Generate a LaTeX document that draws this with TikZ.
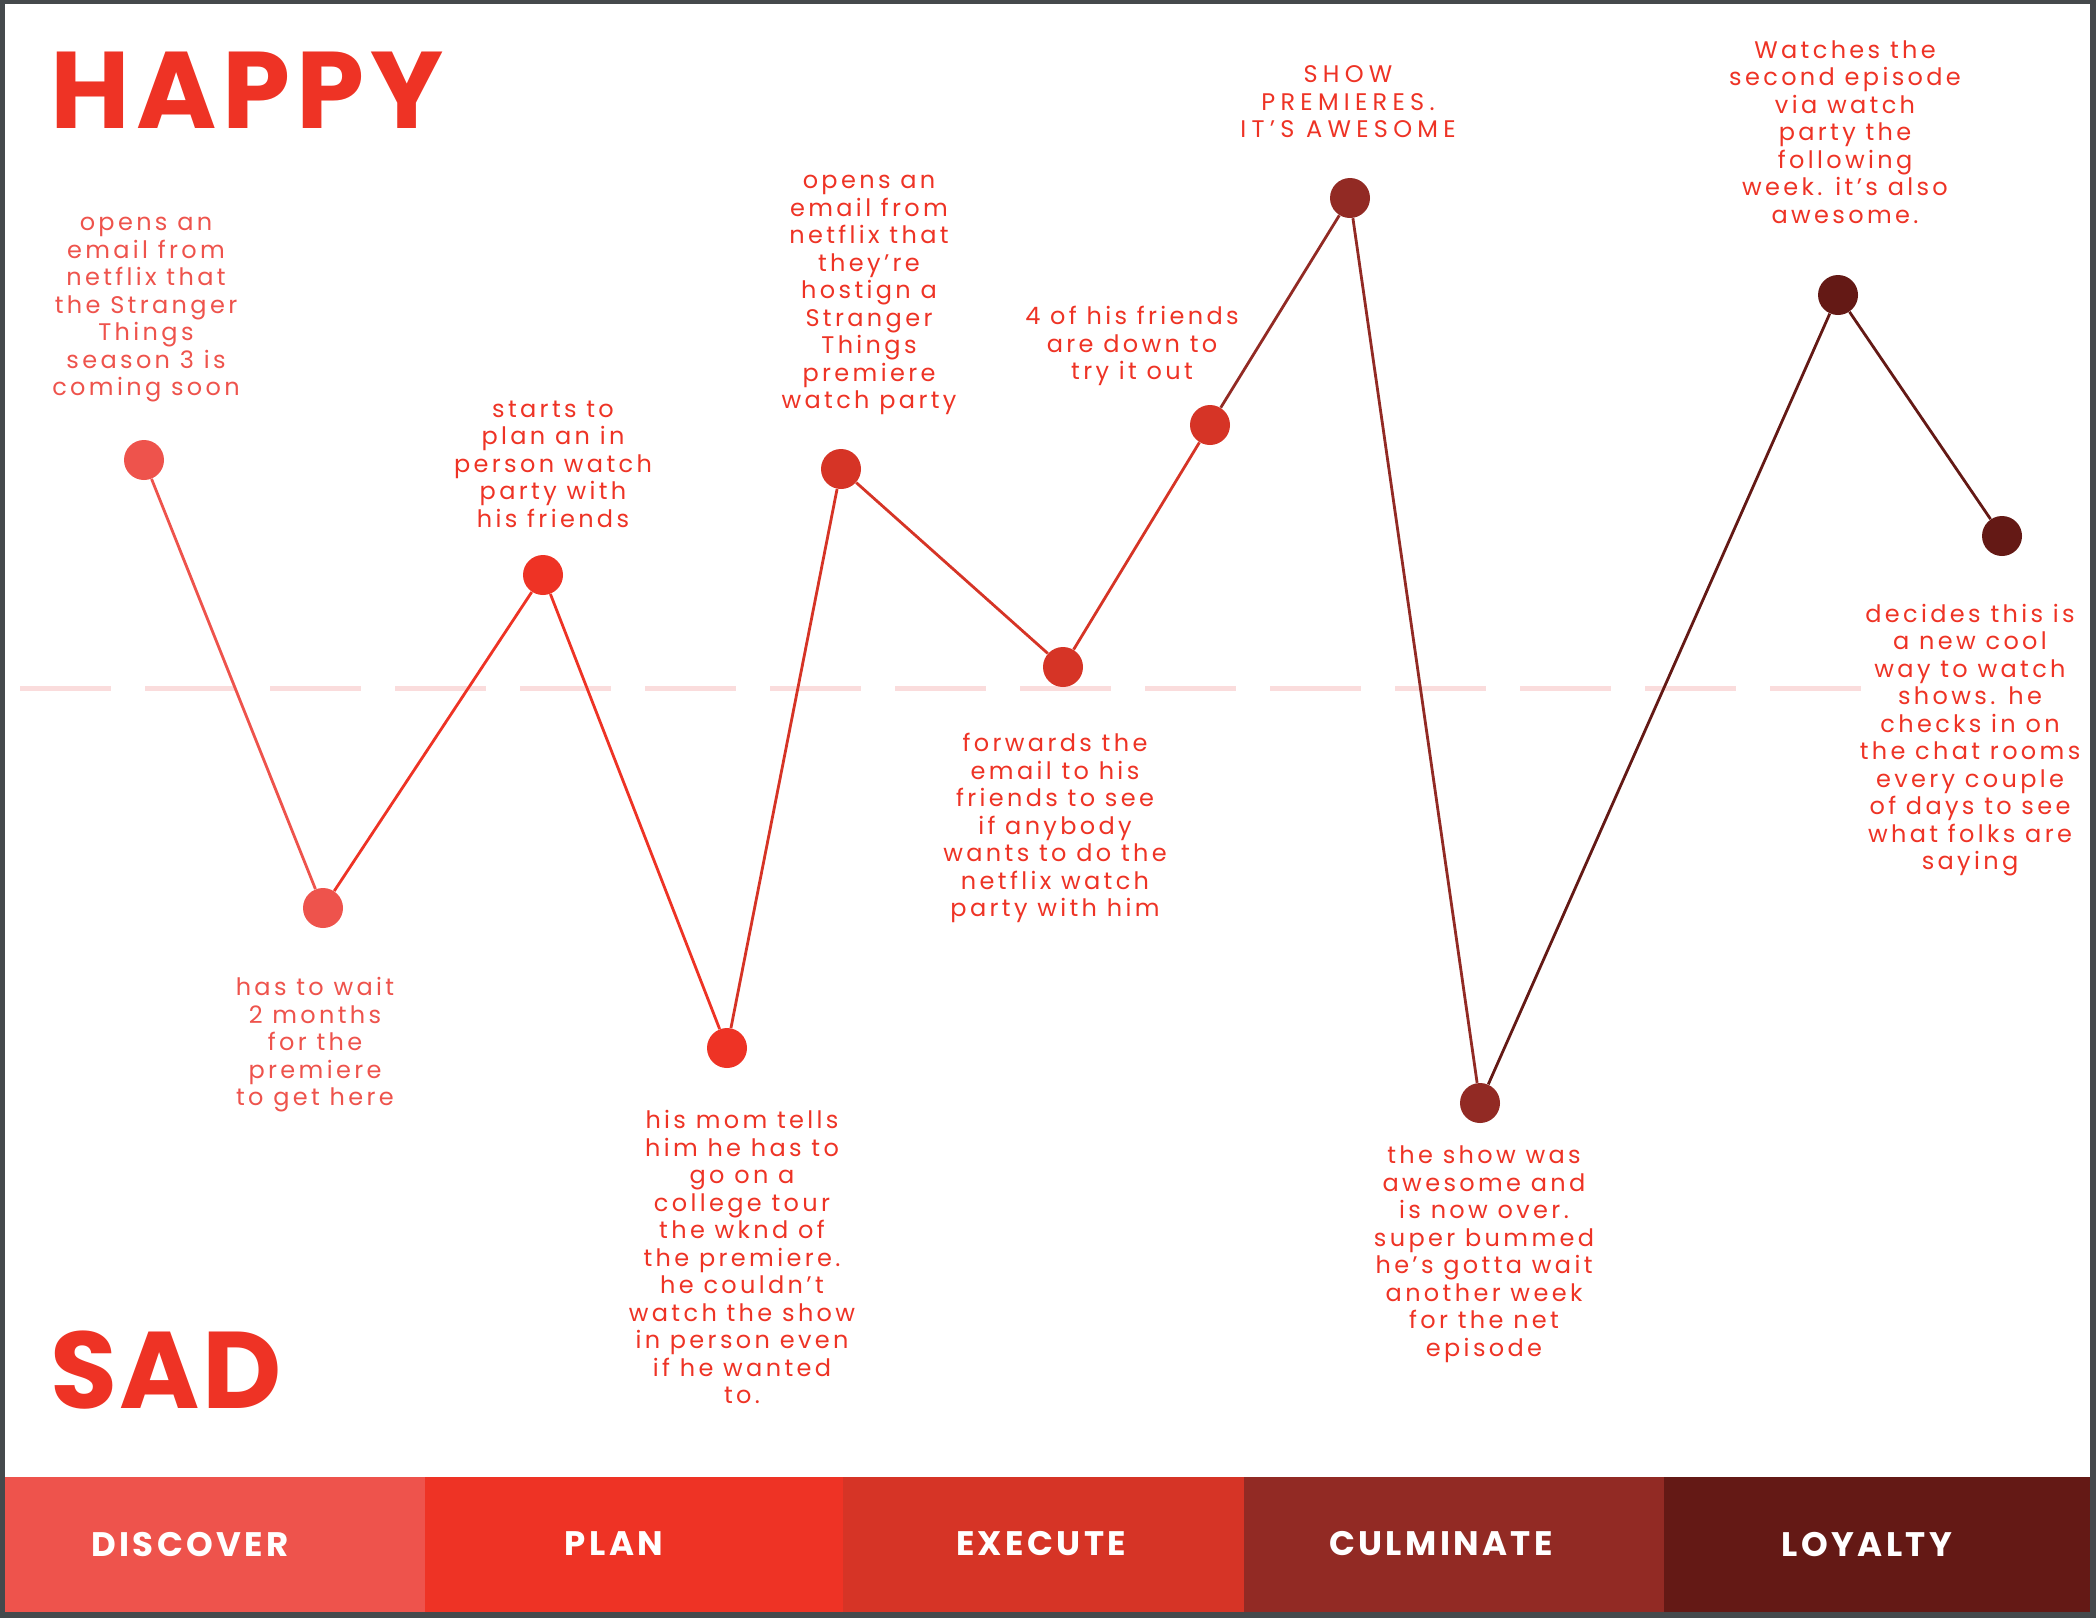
\documentclass[tikz,border=0pt]{standalone}
\usepackage{fontspec}
\setmainfont{Poppins}
\newfontfamily\bodyfont{Poppins}[LetterSpace=14]
\newfontfamily\capsfont{Poppins}[LetterSpace=22]
\newfontfamily\barfont{Poppins}[LetterSpace=10]
\newfontfamily\happyfont{Poppins}[LetterSpace=5.5]
\newfontfamily\sadfont{Poppins}[LetterSpace=2]
\definecolor{cFrame}{HTML}{45494C}
\definecolor{cDiscover}{HTML}{EE534C}
\definecolor{cPlan}{HTML}{EE3325}
\definecolor{cExecute}{HTML}{D63426}
\definecolor{cCulminate}{HTML}{922A24}
\definecolor{cLoyalty}{HTML}{641915}
\definecolor{cDash}{HTML}{FADCDC}
\tikzset{
  dot/.style={circle, inner sep=0pt, minimum size=20pt, draw=none},
  link/.style={line width=1.4pt},
  txt/.style={font=\bodyfont\fontsize{12}{13.75}\selectfont, align=center, inner sep=0pt, text=cPlan},
  txtlight/.style={txt, text=cDiscover},
  txtcaps/.style={txt, font=\capsfont\fontsize{12}{13.75}\selectfont},
  barlabel/.style={font=\barfont\bfseries\fontsize{17}{20}\selectfont, text=white, inner sep=0pt},
  bigword/.style={text=cPlan, inner sep=0pt, anchor=base west},
  dashline/.style={draw=cDash, line width=2.5pt, dash pattern=on 45.5pt off 17pt}
}
\begin{document}
\begin{tikzpicture}[x=0.5pt,y=-0.5pt]
\fill[cFrame] (0,0) rectangle (2096,1618);
\fill[white] (5,4) rectangle (2090,1612);
\useasboundingbox (0,0) rectangle (2096,1618);
% phase bar
\fill[cDiscover] (5,1477) rectangle (425,1612);
\fill[cPlan] (425,1477) rectangle (843,1612);
\fill[cExecute] (843,1477) rectangle (1244,1612);
\fill[cCulminate] (1244,1477) rectangle (1664,1612);
\fill[cLoyalty] (1664,1477) rectangle (2090,1612);
\node[barlabel] (lDiscover) at (190,1544) {DISCOVER};
\node[barlabel] (lPlan) at (614,1544) {PLAN};
\node[barlabel] (lExecute) at (1041,1544) {EXECUTE};
\node[barlabel] (lCulminate) at (1441,1544) {CULMINATE};
\node[barlabel] (lLoyalty) at (1867,1544) {LOYALTY};
% titles
\node[bigword, font=\happyfont\bfseries\fontsize{54.5}{60}\selectfont] (happy) at (50,128) {HAPPY};
\node[bigword, font=\sadfont\bfseries\fontsize{54.5}{60}\selectfont] (sad) at (50,1408) {SAD};
% neutral line
\coordinate (dl) at (20,688);
\coordinate (dr) at (1865,688);
\draw[dashline] (dl) -- (dr);
% points
\node[dot, fill=cDiscover] (p1) at (144,460) {};
\node[dot, fill=cDiscover] (p2) at (323,908) {};
\node[dot, fill=cPlan] (p3) at (543,575) {};
\node[dot, fill=cPlan] (p4) at (727,1048) {};
\node[dot, fill=cExecute] (p5) at (841,469) {};
\node[dot, fill=cExecute] (p6) at (1063,667) {};
\node[dot, fill=cExecute] (p7) at (1210,425) {};
\node[dot, fill=cCulminate] (p8) at (1350,198) {};
\node[dot, fill=cCulminate] (p9) at (1480,1103) {};
\node[dot, fill=cLoyalty] (p10) at (1838,295) {};
\node[dot, fill=cLoyalty] (p11) at (2002,536) {};
% connectors
\draw[link, cDiscover] (p1) -- (p2);
\draw[link, cPlan] (p2) -- (p3);
\draw[link, cPlan] (p3) -- (p4);
\draw[link, cExecute] (p4) -- (p5);
\draw[link, cExecute] (p5) -- (p6);
\draw[link, cExecute] (p6) -- (p7);
\draw[link, cCulminate] (p7) -- (p8);
\draw[link, cCulminate] (p8) -- (p9);
\draw[link, cLoyalty] (p9) -- (p10);
\draw[link, cLoyalty] (p10) -- (p11);
% texts
\node[txtlight] (t1) at (146,310) {opens an\\email from\\netflix that\\the Stranger\\Things\\season 3 is\\coming soon};
\node[txtlight] (t2) at (315,1045) {has to wait\\2 months\\for the\\premiere\\to get here};
\node[txt] (t3) at (553,464) {starts to\\plan an in\\person watch\\party with\\his friends};
\node[txt] (t4) at (742,1257) {his mom tells\\him he has to\\go on a\\college tour\\the wknd of\\the premiere.\\he couldn’t\\watch the show\\in person even\\if he wanted\\to.};
\node[txt] (t5) at (869,295) {opens an\\email from\\netflix that\\they’re\\hostign a\\Stranger\\Things\\premiere\\watch party};
\node[txt] (t6) at (1055,828) {forwards the\\email to his\\friends to see\\if anybody\\wants to do the\\netflix watch\\party with him};
\node[txt] (t7) at (1132,346) {4 of his friends\\are down to\\try it out};
\node[txtcaps] (t8) at (1348,102) {SHOW\\PREMIERES.\\IT’S AWESOME};
\node[txt] (t9) at (1484,1254) {the show was\\awesome and\\is now over.\\super bummed\\he’s gotta wait\\another week\\for the net\\episode};
\node[txt] (t10) at (1845,132) {Watches the\\second episode\\via watch\\party the\\following\\week. it’s also\\awesome.};
\node[txt] (t11) at (1970,740) {decides this is\\a new cool\\way to watch\\shows. he\\checks in on\\the chat rooms\\every couple\\of days to see\\what folks are\\saying};
\end{tikzpicture}
\end{document}
